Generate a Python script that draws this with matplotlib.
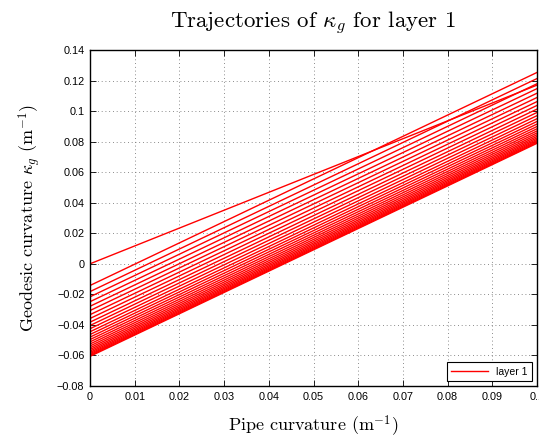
import numpy as np
import matplotlib
matplotlib.use("Agg")
import matplotlib.pyplot as plt

plt.rcParams["mathtext.fontset"] = "cm"
plt.rcParams["axes.unicode_minus"] = True

# kappa_g at the two ends of the pipe-curvature range, one entry per trajectory
pipe_curv = [0.0, 0.1]
kg_start = [0.0, -0.0142, -0.0182, -0.0216, -0.0248, -0.0278, -0.0306, -0.0333,
            -0.0358, -0.0382, -0.0404, -0.0425, -0.0445, -0.0463, -0.0480,
            -0.0496, -0.0511, -0.0525, -0.0538, -0.0550, -0.0561, -0.0571,
            -0.0580, -0.0588, -0.0595, -0.0601, -0.0606]
kg_end = [0.1170, 0.1253, 0.1213, 0.1179, 0.1147, 0.1117, 0.1089, 0.1062,
          0.1037, 0.1013, 0.0991, 0.0970, 0.0950, 0.0932, 0.0915,
          0.0899, 0.0884, 0.0870, 0.0857, 0.0845, 0.0834, 0.0824,
          0.0815, 0.0807, 0.0800, 0.0794, 0.0789]

xticks = [0, 0.01, 0.02, 0.03, 0.04, 0.05, 0.06, 0.07, 0.08, 0.09, 0.1]
xticklabels = ["0", "0.01", "0.02", "0.03", "0.04", "0.05", "0.06", "0.07", "0.08", "0.09", "0.1"]
yticks = [-0.08, -0.06, -0.04, -0.02, 0, 0.02, 0.04, 0.06, 0.08, 0.1, 0.12, 0.14]
yticklabels = ["\u22120.08", "\u22120.06", "\u22120.04", "\u22120.02", "0", "0.02",
               "0.04", "0.06", "0.08", "0.1", "0.12", "0.14"]

fig = plt.figure(figsize=(5.39, 4.40), dpi=100)
ax = fig.add_axes([90 / 539, 1 - 386 / 440, 447 / 539, 336 / 440])

for i, (a, b) in enumerate(zip(kg_start, kg_end)):
    ax.plot(pipe_curv, [a, b], color="#ff0000", lw=1.0,
            label="layer 1" if i == 0 else None)

ax.set_xlim(0, 0.1)
ax.set_ylim(-0.08, 0.14)
ax.set_xticks(xticks)
ax.set_xticklabels(xticklabels, fontfamily="Liberation Sans", fontsize=7.8)
ax.set_yticks(yticks)
ax.set_yticklabels(yticklabels, fontfamily="Liberation Sans", fontsize=7.8)
ax.tick_params(direction="in", top=True, right=True, length=4, width=0.6, pad=4)
for s in ax.spines.values():
    s.set_linewidth(1.0)
ax.grid(True, linestyle=(0, (1, 3.5)), color="#666666", linewidth=0.6)

ax.set_title(r"Trajectories of $\kappa_g$ for layer 1", fontfamily="cmr10",
             fontsize=16.5, pad=16)
ax.set_xlabel(r"Pipe curvature (m$^{-1}$)", fontfamily="cmr10", fontsize=13, labelpad=9)
ax.set_ylabel(r"Geodesic curvature $\kappa_g$ (m$^{-1}$)", fontfamily="cmr10",
              fontsize=13, labelpad=10)

leg = ax.legend(loc="lower right", fancybox=False, edgecolor="black",
                prop={"family": "Liberation Sans", "size": 7.5},
                handlelength=3.5, borderaxespad=0.5, framealpha=1)
leg.get_frame().set_linewidth(0.8)

fig.savefig("out.png", dpi=100)
